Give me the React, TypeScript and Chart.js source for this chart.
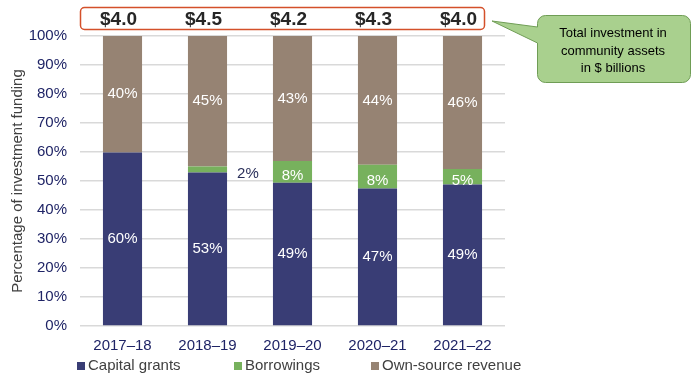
import React, { useEffect, useRef } from "react";
import { Chart, registerables } from "chart.js";

Chart.register(...registerables);

const categories = ["2017–18", "2018–19", "2019–20", "2020–21", "2021–22"];
const capitalGrants = [59.8, 52.9, 49.4, 47.4, 48.8];
const borrowings = [0, 2.1, 7.5, 8.2, 5.3];
const ownSource = [40.2, 45.0, 43.1, 44.4, 45.9];
const totals = [4.0, 4.5, 4.2, 4.3, 4.0];
const seriesNames = ["Capital grants", "Borrowings", "Own-source revenue"];
const yTicks = [0, 10, 20, 30, 40, 50, 60, 70, 80, 90, 100];
const calloutLines = ["Total investment in", "community assets", "in $ billions"];

const NAVY = "#393d75";
const GREEN = "#77b15d";
const BROWN = "#968373";
const AXIS_TEXT = "#1f2466";
const FONT = "'Liberation Sans', Arial, sans-serif";

const overlayPlugin = {
  id: "overlay",
  afterDatasetsDraw(chart: any) {
    const ctx = chart.ctx;
    ctx.save();
    ctx.font = `15px ${FONT}`;
    ctx.textAlign = "center";
    ctx.textBaseline = "middle";
    chart.data.datasets.forEach((ds: any, d: number) => {
      const meta = chart.getDatasetMeta(d);
      meta.data.forEach((el: any, i: number) => {
        const v = ds.data[i];
        if (!v) return;
        const label = Math.round(v) + "%";
        const cy = (el.y + el.base) / 2;
        if (v < 4) {
          ctx.fillStyle = "#2a2f5a";
          ctx.textAlign = "left";
          ctx.fillText(label, el.x + el.width / 2 + 10, cy + 4);
          ctx.textAlign = "center";
        } else {
          ctx.fillStyle = "#ffffff";
          ctx.fillText(label, el.x, cy + (d === 1 ? 4 : 0));
        }
      });
    });
    ctx.restore();
  },
  afterDraw(chart: any) {
    const ctx = chart.ctx;
    const xs = chart.scales.x;
    ctx.save();
    // totals box
    ctx.beginPath();
    ctx.roundRect(80.5, 7.5, 404, 22, 4);
    ctx.strokeStyle = "#d4502a";
    ctx.lineWidth = 1.5;
    ctx.stroke();
    ctx.fillStyle = "#262626";
    ctx.font = `bold 19px 'Liberation Sans Narrow', ${FONT}`;
    ctx.textAlign = "center";
    ctx.textBaseline = "middle";
    totals.forEach((t, i) => {
      ctx.fillText("$" + t.toFixed(1), xs.getPixelForValue(i) - 4, 20);
    });

    // callout
    const x0 = 537.5, y0 = 15.5, x1 = 690.5, y1 = 82.5, r = 8;
    ctx.beginPath();
    ctx.moveTo(x0 + r, y0);
    ctx.lineTo(x1 - r, y0);
    ctx.arcTo(x1, y0, x1, y0 + r, r);
    ctx.lineTo(x1, y1 - r);
    ctx.arcTo(x1, y1, x1 - r, y1, r);
    ctx.lineTo(x0 + r, y1);
    ctx.arcTo(x0, y1, x0, y1 - r, r);
    ctx.lineTo(x0, 43);
    ctx.lineTo(492, 21);
    ctx.lineTo(x0, 27);
    ctx.lineTo(x0, y0 + r);
    ctx.arcTo(x0, y0, x0 + r, y0, r);
    ctx.closePath();
    ctx.fillStyle = "#a9d08e";
    ctx.fill();
    ctx.strokeStyle = "#6f9d55";
    ctx.lineWidth = 1;
    ctx.stroke();
    ctx.fillStyle = "#000000";
    ctx.font = `13px ${FONT}`;
    calloutLines.forEach((l, i) => {
      ctx.fillText(l, 613, 33.5 + i * 17.5);
    });

    // legend
    const colors = [NAVY, GREEN, BROWN];
    const legendX = [77, 234, 371];
    ctx.font = `15px ${FONT}`;
    ctx.textAlign = "left";
    seriesNames.forEach((n, i) => {
      ctx.fillStyle = colors[i];
      ctx.fillRect(legendX[i], 362, 8, 8);
      ctx.fillStyle = "#404040";
      ctx.fillText(n, legendX[i] + 11, 366);
    });
    ctx.restore();
  },
};

export default function App() {
  const ref = useRef<HTMLCanvasElement>(null);
  useEffect(() => {
    if (!ref.current) return;
    Chart.defaults.font.family = FONT;
    const chart = new Chart(ref.current, {
      type: "bar",
      data: {
        labels: categories,
        datasets: [
          { label: seriesNames[0], data: capitalGrants, backgroundColor: NAVY },
          { label: seriesNames[1], data: borrowings, backgroundColor: GREEN },
          { label: seriesNames[2], data: ownSource, backgroundColor: BROWN },
        ],
      },
      options: {
        animation: false,
        responsive: false,
        devicePixelRatio: 1,
        datasets: { bar: { categoryPercentage: 1, barPercentage: 0.46 } },
        layout: { padding: { left: 0, right: 194, top: 36, bottom: 0 } },
        plugins: { legend: { display: false }, tooltip: { enabled: false } },
        scales: {
          x: {
            stacked: true,
            grid: { display: false, drawTicks: false },
            border: { display: false },
            ticks: { color: AXIS_TEXT, font: { size: 15 }, padding: 11 },
            afterFit: (s: any) => { s.height = 59; },
          },
          y: {
            stacked: true,
            min: 0,
            max: 100,
            afterBuildTicks: (s: any) => { s.ticks = yTicks.map((v) => ({ value: v })); },
            grid: { color: "#d9d9d9", lineWidth: 1.5, drawTicks: false },
            border: { display: false },
            ticks: {
              color: AXIS_TEXT,
              font: { size: 15 },
              padding: 13,
              callback: (v: any) => v + "%",
            },
            title: {
              display: true,
              text: "Percentage of investment funding",
              color: "#404040",
              font: { size: 15 },
              padding: { top: 9, bottom: 0 },
            },
            afterFit: (s: any) => { s.width = 80; },
          },
        },
      },
      plugins: [overlayPlugin],
    });
    return () => chart.destroy();
  }, []);
  return (
    <div style={{ position: "absolute", left: 0, top: 0, width: 699, height: 385, background: "#fff" }}>
      <canvas ref={ref} width={699} height={385} />
    </div>
  );
}
